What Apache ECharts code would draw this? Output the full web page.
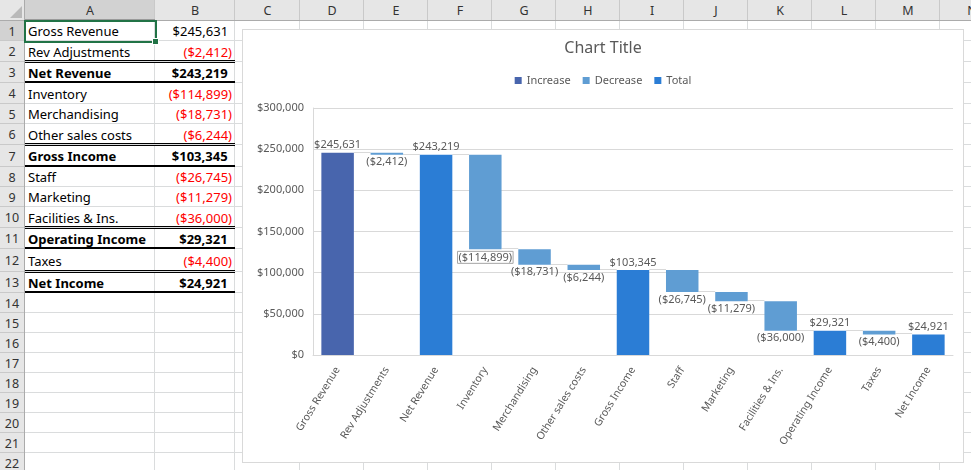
<!DOCTYPE html>
<html>
<head>
<meta charset="utf-8">
<script src="https://cdn.jsdelivr.net/npm/echarts@6.0.0/dist/echarts.min.js"></script>
<style>
  html, body { margin:0; padding:0; background:#fff; }
  body { width:971px; height:470px; overflow:hidden; position:relative; font-family:"Noto Sans","Open Sans",sans-serif; }
  #sheet { position:absolute; left:0; top:0; width:971px; height:470px; overflow:hidden; }
  #chartWrap { position:absolute; left:242px; top:29px; width:722px; height:434px; background:#fff; }
  #chart { position:absolute; left:0; top:0; width:722px; height:434px; }
  #chartBorder { position:absolute; left:242px; top:29px; width:722px; height:434px; box-sizing:border-box; border:1px solid #d9d9d9; pointer-events:none; }
</style>
</head>
<body>
<div id="sheet"></div>
<div id="chartWrap"><div id="chart"></div></div>
<div id="chartBorder"></div>
<script>
// ---------------- data ----------------
const categories = ['Gross Revenue','Rev Adjustments','Net Revenue','Inventory','Merchandising','Other sales costs','Gross Income','Staff','Marketing','Facilities & Ins.','Operating Income','Taxes','Net Income'];
const values = [245631, -2412, 243219, -114899, -18731, -6244, 103345, -26745, -11279, -36000, 29321, -4400, 24921];
const kinds = ['increase','decrease','total','decrease','decrease','decrease','total','decrease','decrease','decrease','total','decrease','total'];
const legendNames = ['Increase','Decrease','Total'];
const columnLetters = ['A','B','C','D','E','F','G','H','I','J','K','L','M','N'];
const yTicks = { min: 0, max: 300000, step: 50000 };

// ---------------- helpers ----------------
function money(v) {
  const s = '$' + Math.abs(v).toLocaleString('en-US');
  return v < 0 ? '(' + s + ')' : s;
}

// ---------------- spreadsheet ----------------
const sheet = document.getElementById('sheet');
function box(l, t, w, h, css, html) {
  const d = document.createElement('div');
  d.style.cssText = 'position:absolute;left:' + l + 'px;top:' + t + 'px;width:' + w + 'px;height:' + h + 'px;' + (css || '');
  if (html !== undefined) d.innerHTML = html;
  sheet.appendChild(d);
  return d;
}
const colEdges = [25, 155, 235, 300, 364, 428, 492, 556, 620, 684, 748, 812, 876, 940, 1004];
const rowEdges = [21, 41, 62, 83, 104, 124, 145, 167, 187, 207, 228, 249, 272, 293];
while (rowEdges.length < 24) rowEdges.push(rowEdges[rowEdges.length - 1] + 20);

// header backgrounds
box(0, 0, 971, 21, 'background:#e6e6e6');
box(0, 21, 25, 449, 'background:#e6e6e6');
box(colEdges[0], 0, colEdges[1] - colEdges[0], 20, 'background:#d2d2d2');
box(0, rowEdges[0], 24, rowEdges[1] - rowEdges[0], 'background:#d2d2d2');
// grid lines
for (let i = 1; i < colEdges.length; i++) box(colEdges[i] - 1, 21, 1, 449, 'background:#dadcdd');
for (let i = 1; i < rowEdges.length; i++) box(25, rowEdges[i] - 1, 946, 1, 'background:#dadcdd');
// header separators
for (let i = 1; i < colEdges.length; i++) box(colEdges[i] - 1, 0, 1, 20, 'background:#c9c9c9');
for (let i = 1; i < rowEdges.length; i++) box(0, rowEdges[i] - 1, 24, 1, 'background:#c9c9c9');
box(0, 20, 971, 1, 'background:#ababab');
box(24, 0, 1, 470, 'background:#ababab');
box(colEdges[0], 19, colEdges[1] - colEdges[0], 2, 'background:#9a9a9a');
// corner triangle
box(0, 0, 24, 20, '', '<svg width="24" height="20"><polygon points="22,6 22,18 10,18" fill="#b9b9b9"/></svg>');
// column letters
columnLetters.forEach((L, i) => {
  box(colEdges[i], 0, colEdges[i + 1] - colEdges[i], 20, 'text-align:center;line-height:21px;font-size:12.5px;color:#333', L);
});
// row numbers
for (let r = 0; r < rowEdges.length - 1; r++) {
  box(0, rowEdges[r], 24, rowEdges[r + 1] - rowEdges[r], 'text-align:center;font-size:12.5px;color:#333;line-height:' + (rowEdges[r + 1] - rowEdges[r] + 1) + 'px', String(r + 1));
}
// cell contents
categories.forEach((name, r) => {
  const t = rowEdges[r], h = rowEdges[r + 1] - rowEdges[r];
  const bold = kinds[r] === 'total' ? 'font-weight:700;' : '';
  box(colEdges[0] + 3, t, colEdges[1] - colEdges[0] - 4, h, 'font-size:13px;color:#000;line-height:' + (h + 1) + 'px;white-space:nowrap;' + bold, name);
  const v = values[r];
  const txt = v < 0 ? money(v) : money(v) + '<span style="visibility:hidden">)</span>';
  box(colEdges[1], t, colEdges[2] - colEdges[1] - 3, h, 'text-align:right;font-size:13px;line-height:' + (h + 1) + 'px;white-space:nowrap;' + bold + 'color:' + (v < 0 ? '#ff0000' : '#000'), txt);
});
// cell borders (rows after which a double / thick line is drawn)
const doubleAfter = [2, 6, 10, 12];
const thickAfter = [3, 7, 11, 13];
doubleAfter.forEach(r => {
  const y = rowEdges[r] - 1;
  box(25, y - 1, 210, 1, 'background:#000');
  box(25, y + 1, 210, 1, 'background:#000');
});
thickAfter.forEach(r => {
  const y = rowEdges[r] - 1;
  box(25, y - 1, 210, 2, 'background:#000');
});
// active cell selection
box(24, 20, 133, 23, 'box-sizing:border-box;border:2px solid #217346');
box(152, 38, 7, 7, 'box-sizing:border-box;background:#217346;border:1px solid #fff');

// ---------------- waterfall data ----------------
const baseData = [], incData = [], decData = [], totData = [], levels = [];
let running = 0;
values.forEach((v, i) => {
  const k = kinds[i];
  if (k === 'total') {
    running = v; baseData.push(0); totData.push(v); incData.push('-'); decData.push('-');
  } else if (k === 'increase') {
    baseData.push(running); running += v; incData.push(v); decData.push('-'); totData.push('-');
  } else {
    running += v; baseData.push(running); decData.push(-v); incData.push('-'); totData.push('-');
  }
  levels.push(running);
});
const connectors = levels.slice(0, -1).map((lv, i) => [i, lv]);

const FONT = '"Segoe UI","Noto Sans","Open Sans",sans-serif';
const TXT = '#595959';
const BAR_FRAC = 0.66;
const colors = { increase: '#4865ad', decrease: '#5f9dd3', total: '#2b7dd5' };
const boxedLabelCategory = 'Inventory';

function labelFmt(p) { return money(values[p.dataIndex]); }

const chart = echarts.init(document.getElementById('chart'), null, { renderer: 'canvas' });
chart.setOption({
  backgroundColor: '#ffffff',
  animation: false,
  textStyle: { fontFamily: FONT },
  title: {
    text: 'Chart Title', left: 'center', top: 6,
    textStyle: { fontSize: 16, fontWeight: 'normal', color: TXT, fontFamily: FONT }
  },
  legend: {
    data: legendNames, top: 41, left: 'center',
    icon: 'rect', itemWidth: 7, itemHeight: 7, itemGap: 12,
    textStyle: { fontSize: 11, color: TXT, fontFamily: FONT }
  },
  grid: { left: 71, right: 11, top: 79, bottom: 108, containLabel: false, outerBoundsMode: 'none' },
  xAxis: {
    type: 'category', data: categories,
    axisLine: { show: true, lineStyle: { color: '#d9d9d9', width: 1 } },
    axisTick: { show: false },
    axisLabel: { interval: 0, rotate: 58, margin: 13, fontSize: 10.5, color: TXT, fontFamily: FONT },
    splitLine: { show: false }
  },
  yAxis: {
    type: 'value', min: yTicks.min, max: yTicks.max, interval: yTicks.step,
    axisLine: { show: true, lineStyle: { color: '#d9d9d9', width: 1 } },
    axisTick: { show: false },
    splitLine: { show: true, lineStyle: { color: '#d9d9d9', width: 1 } },
    axisLabel: { margin: 9, fontSize: 11, color: TXT, fontFamily: FONT, formatter: v => money(v) }
  },
  series: [
    {
      name: 'base', type: 'bar', stack: 'wf', barWidth: (BAR_FRAC * 100) + '%', silent: true,
      itemStyle: { color: 'rgba(0,0,0,0)' }, emphasis: { disabled: true }, data: baseData
    },
    {
      name: 'Increase', type: 'bar', stack: 'wf', barWidth: (BAR_FRAC * 100) + '%',
      itemStyle: { color: colors.increase },
      label: { show: true, position: 'top', distance: 2, fontSize: 11, color: TXT, fontFamily: FONT, formatter: labelFmt },
      data: incData
    },
    {
      name: 'Decrease', type: 'bar', stack: 'wf', barWidth: (BAR_FRAC * 100) + '%',
      itemStyle: { color: colors.decrease },
      label: { show: true, position: 'bottom', distance: 2, fontSize: 11, color: TXT, fontFamily: FONT, formatter: labelFmt },
      data: decData.map((d, i) => categories[i] === boxedLabelCategory
        ? { value: d, label: { borderColor: '#a6a6a6', borderWidth: 1, padding: [1, 1, 0, 1] } }
        : d)
    },
    {
      name: 'Total', type: 'bar', stack: 'wf', barWidth: (BAR_FRAC * 100) + '%',
      itemStyle: { color: colors.total },
      label: { show: true, position: 'top', distance: 2, fontSize: 11, color: TXT, fontFamily: FONT, formatter: labelFmt },
      data: totData
    },
    {
      name: 'connectors', type: 'custom', silent: true, z: 1,
      encode: { x: 0, y: 1 },
      renderItem: function (params, api) {
        const p = api.coord([api.value(0), api.value(1)]);
        const band = api.size([1, 0])[0];
        const bw = band * BAR_FRAC;
        const y = Math.round(p[1]) - 0.5;
        return {
          type: 'line',
          shape: { x1: p[0] + bw / 2, y1: y, x2: p[0] + band - bw / 2, y2: y },
          style: { stroke: '#d9d9d9', lineWidth: 1 }
        };
      },
      data: connectors
    }
  ]
});
</script>
</body>
</html>
